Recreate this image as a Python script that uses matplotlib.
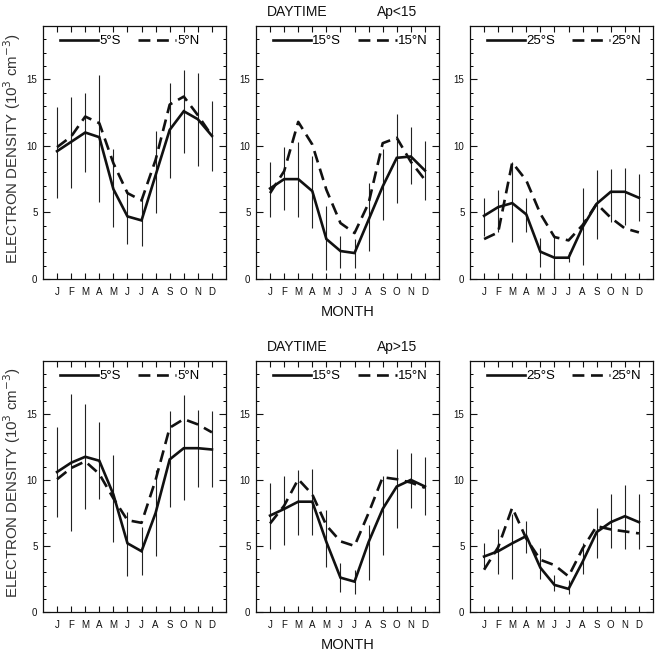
import matplotlib
matplotlib.use("Agg")
import matplotlib.pyplot as plt
from matplotlib.ticker import MultipleLocator
import numpy as np

plt.rcParams['font.family'] = ['Liberation Sans', 'DejaVu Sans']

months = ['J', 'F', 'M', 'A', 'M', 'J', 'J', 'A', 'S', 'O', 'N', 'D']
month_idx = list(range(1, 13))

# ---- Ap<15 ----
lat5S_low = [9.6, 10.3, 11.0, 10.65, 6.75, 4.7, 4.4, 7.8, 11.2, 12.6, 12.0, 10.75]
lat5N_low = [9.9, 10.7, 12.2, 11.7, 8.7, 6.45, 5.9, 8.95, 13.1, 13.7, 12.3, 10.75]
err5_low_lo = [6.1, 6.8, 8.0, 5.8, 3.9, 2.65, 2.5, 4.95, 7.6, 9.45, 8.45, 8.1]
err5_low_hi = [12.95, 13.7, 13.95, 15.3, 9.8, 6.7, 6.25, 11.1, 14.75, 15.7, 15.45, 13.4]

lat15S_low = [6.8, 7.5, 7.5, 6.6, 3.0, 2.1, 1.95, 4.45, 6.95, 9.1, 9.2, 8.15]
lat15N_low = [6.45, 8.1, 11.8, 10.1, 6.7, 4.2, 3.45, 5.7, 10.2, 10.6, 8.8, 7.45]
err15_low_lo = [4.65, 5.15, 4.65, 3.8, 0.7, 0.8, 0.8, 2.1, 4.4, 5.7, 7.1, 5.95]
err15_low_hi = [8.8, 9.9, 10.3, 9.2, 5.45, 3.25, 3.0, 7.2, 9.75, 12.4, 11.45, 10.4]

lat25S_low = [4.75, 5.4, 5.7, 4.85, 2.05, 1.6, 1.6, 3.9, 5.65, 6.55, 6.55, 6.1]
lat25N_low = [3.0, 3.5, 8.75, 7.4, 4.9, 3.15, 2.9, 4.05, 5.65, 4.6, 3.8, 3.5]
err25_low_lo = [3.2, 3.55, 2.8, 3.55, 0.9, 0.0, 1.3, 1.05, 3.0, 4.25, 4.05, 4.35]
err25_low_hi = [6.1, 6.65, 8.8, 6.05, 3.1, 3.3, 2.05, 6.85, 8.2, 8.25, 8.35, 7.9]

# ---- Ap>15 ----
lat5S_high = [10.6, 11.3, 11.75, 11.45, 8.9, 5.2, 4.6, 7.5, 11.55, 12.4, 12.4, 12.3]
lat5N_high = [10.05, 10.9, 11.4, 10.45, 8.6, 6.95, 6.75, 10.0, 13.95, 14.6, 14.2, 13.6]
err5_high_lo = [7.2, 6.1, 7.8, 8.55, 5.3, 2.75, 2.8, 4.25, 7.95, 8.5, 9.45, 9.45]
err5_high_hi = [14.0, 16.5, 15.75, 14.4, 11.9, 7.6, 6.4, 10.75, 15.2, 16.4, 15.3, 15.2]

lat15S_high = [7.3, 7.8, 8.35, 8.35, 5.3, 2.6, 2.3, 5.3, 7.8, 9.5, 10.0, 9.5]
lat15N_high = [6.7, 8.05, 10.05, 8.9, 6.55, 5.35, 5.0, 7.5, 10.2, 10.05, 9.8, 9.4]
err15_high_lo = [4.8, 5.1, 5.85, 5.85, 3.4, 1.5, 1.4, 2.4, 4.3, 6.35, 7.9, 7.35]
err15_high_hi = [9.75, 10.3, 10.75, 10.85, 7.7, 3.7, 3.2, 6.6, 10.3, 12.35, 12.05, 11.7]

lat25S_high = [4.2, 4.6, 5.2, 5.75, 3.35, 2.05, 1.75, 3.8, 6.05, 6.8, 7.25, 6.8]
lat25N_high = [3.2, 4.9, 7.9, 5.55, 3.95, 3.55, 2.7, 4.8, 6.5, 6.25, 6.1, 5.95]
err25_high_lo = [3.35, 2.9, 2.5, 4.5, 2.5, 1.6, 1.4, 2.9, 4.05, 4.85, 4.75, 4.75]
err25_high_hi = [5.2, 6.3, 7.4, 6.9, 4.85, 2.8, 2.4, 5.25, 7.9, 8.9, 9.65, 8.95]

panels = [
    [("5°S", "5°N", lat5S_low, lat5N_low, err5_low_lo, err5_low_hi),
     ("15°S", "15°N", lat15S_low, lat15N_low, err15_low_lo, err15_low_hi),
     ("25°S", "25°N", lat25S_low, lat25N_low, err25_low_lo, err25_low_hi)],
    [("5°S", "5°N", lat5S_high, lat5N_high, err5_high_lo, err5_high_hi),
     ("15°S", "15°N", lat15S_high, lat15N_high, err15_high_lo, err15_high_hi),
     ("25°S", "25°N", lat25S_high, lat25N_high, err25_high_lo, err25_high_hi)],
]
titles = ["Ap<15", "Ap>15"]

W, H = 663, 654
fig = plt.figure(figsize=(W / 100, H / 100), dpi=100)

col_left = [43, 256, 470]
ax_w = 183
row_top = [26, 361]
row_bot = [279, 612]

ink = '#111111'

for r in range(2):
    for c in range(3):
        left = col_left[c] / W
        bottom = 1 - row_bot[r] / H
        height = (row_bot[r] - row_top[r]) / H
        ax = fig.add_axes([left, bottom, ax_w / W, height])
        sl, nl, s_vals, n_vals, lo, hi = panels[r][c]
        x = np.array(month_idx)
        ax.vlines(x, lo, hi, color='#222222', lw=0.8)
        ax.plot(x, s_vals, color=ink, lw=1.9, label=sl, solid_joinstyle='miter')
        ax.plot(x, n_vals, color=ink, lw=1.9, linestyle=(0, (4.5, 2.5)), label=nl)
        ax.set_xlim(0, 13)
        ax.set_ylim(0, 19)
        ax.set_xticks(month_idx)
        ax.set_xticklabels(months)
        ax.yaxis.set_major_locator(MultipleLocator(5))
        ax.yaxis.set_minor_locator(MultipleLocator(1))
        ax.tick_params(axis='x', which='major', direction='in', top=True, bottom=True,
                       length=4, width=0.8, labelsize=7, pad=6, colors=ink)
        ax.tick_params(axis='y', which='major', direction='in', left=True, right=True,
                       length=5, width=0.8, labelsize=7, pad=4, colors=ink)
        ax.tick_params(axis='y', which='minor', direction='in', left=True, right=True,
                       length=2.5, width=0.7)
        for sp in ax.spines.values():
            sp.set_linewidth(0.9)
            sp.set_color(ink)
        ax.legend(loc='upper left', bbox_to_anchor=(0.04, 1.0), ncol=2, frameon=False,
                  handlelength=2.9, handletextpad=0.1, columnspacing=1.3,
                  fontsize=9.5, borderaxespad=0.3)

    # Titles and labels per row
    ytitle = 1 - (row_top[r] - 14) / H
    fig.text(297 / W, ytitle, "DAYTIME", ha='center', va='center', fontsize=10, color=ink)
    fig.text(397 / W, ytitle, titles[r], ha='center', va='center', fontsize=10, color=ink)
    fig.text((col_left[1] + ax_w / 2) / W, 1 - (row_bot[r] + 33) / H, "MONTH",
             ha='center', va='center', fontsize=10.5, color=ink)
    ymid = 1 - ((row_top[r] + row_bot[r]) / 2 - 4) / H
    fig.text(12 / W, ymid, "ELECTRON DENSITY (10$^3$ cm$^{-3}$)", rotation=90,
             ha='center', va='center', fontsize=10.8, color='#333333')

fig.savefig("out.png", dpi=100)
